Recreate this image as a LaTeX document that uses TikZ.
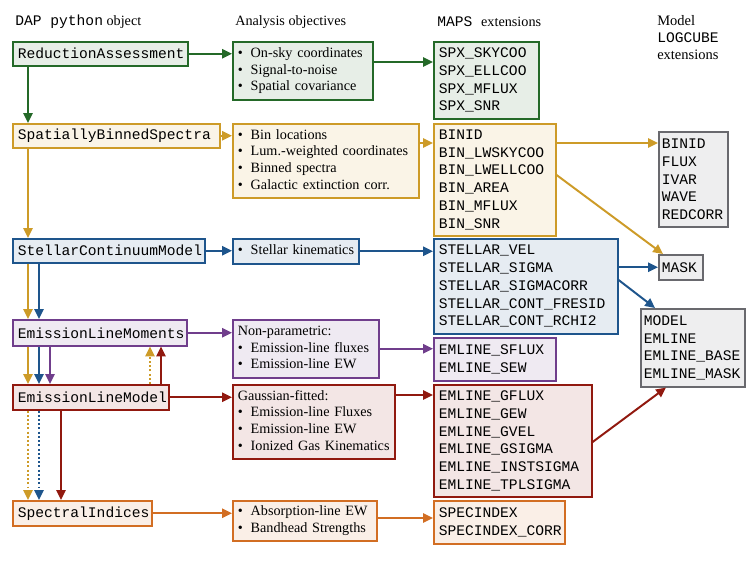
\documentclass[tikz,border=0pt]{standalone}
\usepackage{fontspec}
\setmainfont{Liberation Serif}
\setmonofont{Liberation Mono}
\usetikzlibrary{arrows.meta, positioning, calc}
\definecolor{dapgreen}{RGB}{36, 105, 40}
\definecolor{dapgold}{RGB}{205, 155, 40}
\definecolor{dapblue}{RGB}{30, 85, 140}
\definecolor{dappurple}{RGB}{112, 62, 140}
\definecolor{dapred}{RGB}{145, 25, 15}
\definecolor{daporange}{RGB}{210, 110, 35}
\definecolor{dapgray}{RGB}{105, 105, 110}
\newcommand{\dapmono}{\fontsize{10.4}{12.6}\selectfont\ttfamily}
\newcommand{\dapserif}{\fontsize{10.1}{11.9}\selectfont\rmfamily}
\newcommand{\bitem}{\makebox[9.2pt][l]{\textbullet}}
\newcommand{\blist}[1]{\begin{tabular}{@{}l@{}}#1\end{tabular}}

\begin{document}
\begin{tikzpicture}[x=0.025cm, y=-0.025cm,
    objbox/.style={draw=#1, fill=#1!11, line width=1.1pt, anchor=north west,
        inner xsep=0.125cm, inner ysep=0pt, align=left, font=\dapmono},
    listbox/.style={objbox=#1, font=\dapserif},
    cubebox/.style={objbox=dapgray, inner xsep=0.075cm},
    link/.style={draw=#1, line width=1.4pt, -{Triangle[length=7pt, width=6.5pt]}},
    dotlink/.style={link=#1, dash pattern=on 1.4pt off 1.6pt},
    head/.style={anchor=west, inner sep=0pt, font=\dapserif, align=left}]
    \useasboundingbox (0, 0) rectangle (747, 561);

    % Column headings
    \node[head] (hdap) at (15, 22) {{\dapmono DAP python} object};
    \node[head] (hobj) at (235, 22) {Analysis objectives};
    \node[head] (hmaps) at (437, 22) {{\dapmono MAPS\ }extensions};
    \node[head, anchor=north west, font=\fontsize{10.3}{12.1}\selectfont] (hmodel) at (657, 15)
        {Model\\{\dapmono LOGCUBE}\\extensions};

    % DAP python objects
    \node[objbox=dapgreen, text width=4.125cm, minimum height=0.6cm] (ra) at (12, 41) {ReductionAssessment};
    \node[objbox=dapgold, text width=4.925cm, minimum height=0.6cm] (sbs) at (12, 123) {SpatiallyBinnedSpectra};
    \node[objbox=dapblue, text width=4.55cm, minimum height=0.6cm] (scm) at (12, 238) {StellarContinuumModel};
    \node[objbox=dappurple, text width=4.1cm, minimum height=0.65cm] (elmom) at (12, 319) {EmissionLineMoments};
    \node[objbox=dapred, text width=3.65cm, minimum height=0.625cm] (elmod) at (12, 384) {EmissionLineModel};
    \node[objbox=daporange, text width=3.225cm, minimum height=0.625cm] (si) at (12, 500) {SpectralIndices};

    % Analysis objectives
    \node[listbox=dapgreen, text width=3.25cm, minimum height=1.45cm] (o1) at (232, 41)
        {\blist{\bitem On-sky coordinates\\\bitem Signal-to-noise\\\bitem Spatial covariance}};
    \node[listbox=dapgold, text width=4.4cm, minimum height=1.85cm] (o2) at (232, 123)
        {\blist{\bitem Bin locations\\\bitem Lum.-weighted coordinates\\\bitem Binned spectra\\\bitem Galactic extinction corr.}};
    \node[listbox=dapblue, text width=2.9cm, minimum height=0.625cm] (o3) at (232, 238)
        {\blist{\bitem Stellar kinematics}};
    \node[listbox=dappurple, text width=3.4cm, minimum height=1.45cm] (o4) at (232, 319)
        {\blist{Non-parametric:\\\bitem Emission-line fluxes\\\bitem Emission-line EW}};
    \node[listbox=dapred, text width=3.8cm, minimum height=1.85cm] (o5) at (232, 384)
        {\blist{Gaussian-fitted:\\\bitem Emission-line Fluxes\\\bitem Emission-line EW\\\bitem Ionized Gas Kinematics}};
    \node[listbox=daporange, text width=3.35cm, minimum height=1.0cm] (o6) at (232, 500)
        {\blist{\bitem Absorption-line EW\\\bitem Bandhead Strengths}};

    % MAPS extensions
    \node[objbox=dapgreen, text width=2.375cm, minimum height=1.925cm] (m1) at (433, 41)
        {SPX\_SKYCOO\\SPX\_ELLCOO\\SPX\_MFLUX\\SPX\_SNR};
    \node[objbox=dapgold, text width=2.8cm, minimum height=2.8cm] (m2) at (433, 123)
        {BINID\\BIN\_LWSKYCOO\\BIN\_LWELLCOO\\BIN\_AREA\\BIN\_MFLUX\\BIN\_SNR};
    \node[objbox=dapblue, text width=4.35cm, minimum height=2.375cm] (m3) at (433, 238)
        {STELLAR\_VEL\\STELLAR\_SIGMA\\STELLAR\_SIGMACORR\\STELLAR\_CONT\_FRESID\\STELLAR\_CONT\_RCHI2};
    \node[objbox=dappurple, text width=2.8cm, minimum height=1.075cm] (m4) at (433, 337)
        {EMLINE\_SFLUX\\EMLINE\_SEW};
    \node[objbox=dapred, text width=3.7cm, minimum height=2.8cm] (m5) at (433, 384)
        {EMLINE\_GFLUX\\EMLINE\_GEW\\EMLINE\_GVEL\\EMLINE\_GSIGMA\\EMLINE\_INSTSIGMA\\EMLINE\_TPLSIGMA};
    \node[objbox=daporange, text width=3.025cm, minimum height=1.075cm] (m6) at (433, 500)
        {SPECINDEX\\SPECINDEX\_CORR};

    % Model LOGCUBE extensions
    \node[cubebox, text width=1.575cm, minimum height=2.375cm] (c1) at (658, 131)
        {BINID\\FLUX\\IVAR\\WAVE\\REDCORR};
    \node[cubebox, text width=0.95cm, minimum height=0.625cm] (mask) at (658, 254) {MASK};
    \node[cubebox, text width=2.45cm, minimum height=1.95cm] (c3) at (640, 308)
        {MODEL\\EMLINE\\EMLINE\_BASE\\EMLINE\_MASK};

    % Object chain
    \draw[link=dapgreen] ($(ra.south west)+(16,0)$) -- ($(sbs.north west)+(16,0)$);
    \draw[link=dapgold] ($(sbs.south west)+(16,0)$) -- ($(scm.north west)+(16,0)$);
    \draw[link=dapgold] ($(scm.south west)+(16,0)$) -- ($(elmom.north west)+(16,0)$);
    \draw[link=dapblue] ($(scm.south west)+(27,0)$) -- ($(elmom.north west)+(27,0)$);
    \draw[link=dapgold] ($(elmom.south west)+(16,0)$) -- ($(elmod.north west)+(16,0)$);
    \draw[link=dapblue] ($(elmom.south west)+(27,0)$) -- ($(elmod.north west)+(27,0)$);
    \draw[link=dappurple] ($(elmom.south west)+(38,0)$) -- ($(elmod.north west)+(38,0)$);
    \draw[dotlink=dapgold] ($(elmod.north west)+(138,0)$) -- ($(elmom.south west)+(138,0)$);
    \draw[link=dapred] ($(elmod.north west)+(149,0)$) -- ($(elmom.south west)+(149,0)$);
    \draw[dotlink=dapgold] ($(elmod.south west)+(16,0)$) -- ($(si.north west)+(16,0)$);
    \draw[dotlink=dapblue] ($(elmod.south west)+(27,0)$) -- ($(si.north west)+(27,0)$);
    \draw[link=dapred] ($(elmod.south west)+(49,0)$) -- ($(si.north west)+(49,0)$);

    % Objects to objectives
    \draw[link=dapgreen] (ra.east) -- (ra.east -| o1.west);
    \draw[link=dapgold] (sbs.east) -- (sbs.east -| o2.west);
    \draw[link=dapblue] (scm.east) -- (scm.east -| o3.west);
    \draw[link=dappurple] (elmom.east) -- (elmom.east -| o4.west);
    \draw[link=dapred] (elmod.east) -- (elmod.east -| o5.west);
    \draw[link=daporange] (si.east) -- (si.east -| o6.west);

    % Objectives to MAPS
    \coordinate (a1) at ($(o1.north east)+(0,21)$);
    \coordinate (a2) at ($(o2.north east)+(0,20)$);
    \coordinate (a5) at ($(o5.north east)+(0,11)$);
    \coordinate (a6) at ($(o6.north east)+(0,18)$);
    \draw[link=dapgreen] (a1) -- (a1 -| m1.west);
    \draw[link=dapgold] (a2) -- (a2 -| m2.west);
    \draw[link=dapblue] (o3.east) -- (o3.east -| m3.west);
    \draw[link=dappurple] (o4.east) -- (o4.east -| m4.west);
    \draw[link=dapred] (a5) -- (a5 -| m5.west);
    \draw[link=daporange] (a6) -- (a6 -| m6.west);

    % MAPS to model cube
    \draw[link=dapgold] (a2 -| m2.east) -- (a2 -| c1.west);
    \draw[link=dapgold] ($(m2.north east)+(0,52)$) -- ($(mask.north west)+(5,0)$);
    \draw[link=dapblue] (mask.west -| m3.east) -- (mask.west);
    \draw[link=dapblue] ($(m3.north east)+(0,42)$) -- ($(c3.north west)+(15,0)$);
    \draw[link=dapred] ($(m5.north east)+(0,58)$) -- ($(c3.south west)+(26,0)$);
\end{tikzpicture}
\end{document}
